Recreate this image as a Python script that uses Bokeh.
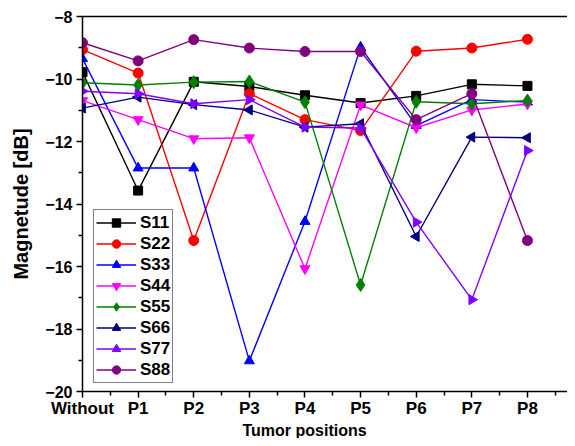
import math
from bokeh.plotting import figure
from bokeh.models import FixedTicker, LinearAxis, Legend, LegendItem, Range1d, Title
from bokeh.embed import file_html
from bokeh.resources import INLINE

positions = ["Without", "P1", "P2", "P3", "P4", "P5", "P6", "P7", "P8"]
y_ticks = [-20, -18, -16, -14, -12, -10, -8]

s11 = [-9.78, -13.57, -10.09, -10.24, -10.52, -10.77, -10.54, -10.17, -10.22]
s22 = [-9.06, -9.81, -15.17, -10.47, -11.30, -11.65, -9.11, -9.01, -8.73]
s33 = [-9.35, -12.85, -12.85, -19.02, -14.56, -8.98, -11.49, -10.66, -10.74]
s44 = [-10.69, -11.30, -11.91, -11.88, -16.07, -10.83, -11.56, -10.99, -10.80]
s55 = [-10.12, -10.19, -10.10, -10.08, -10.74, -16.59, -10.73, -10.79, -10.69]
s66 = [-10.93, -10.58, -10.82, -10.99, -11.54, -11.43, -15.04, -11.86, -11.88]
s77 = [-10.39, -10.47, -10.79, -10.66, -11.54, -11.57, -14.58, -17.06, -12.29]
s88 = [-8.84, -9.42, -8.74, -9.01, -9.12, -9.12, -11.30, -10.47, -15.17]

series_names = ["S11", "S22", "S33", "S44", "S55", "S66", "S77", "S88"]
series_values = [s11, s22, s33, s44, s55, s66, s77, s88]
colors = ["#000000", "#FF0000", "#0000FF", "#FF00FF", "#008000", "#000080", "#8000FF", "#800080"]
markers = ["square", "circle", "triangle", "inverted_triangle", "diamond", "triangle", "triangle", "circle"]
angles = [0, 0, 0, 0, 0, math.pi / 2, -math.pi / 2, 0]
sizes = [9, 10, 10, 10, 13, 10, 10, 10]

FONT = "Liberation Sans"
xs = list(range(len(positions)))

p = figure(width=567, height=438, x_range=Range1d(0, 8.72), y_range=Range1d(-20, -8),
           output_backend="svg", toolbar_location=None,
           min_border_left=82, min_border_right=0, min_border_top=16, min_border_bottom=47)
p.outline_line_color = None
p.xgrid.visible = False
p.ygrid.visible = False
p.background_fill_color = "white"
p.border_fill_color = "white"

items = []
for name, vals, col, mk, ang, sz in zip(series_names, series_values, colors, markers, angles, sizes):
    ln = p.line(xs, vals, line_color=col, line_width=1.4)
    sc = p.scatter(xs, vals, marker=mk, angle=ang, size=sz, fill_color=col, line_color=col)
    items.append(LegendItem(label=name, renderers=[ln, sc]))

xa = p.xaxis[0]
xa.ticker = FixedTicker(ticks=xs, minor_ticks=[i + 0.5 for i in range(len(positions))])
xa.major_label_overrides = {i: lab for i, lab in enumerate(positions)}
ya = p.yaxis[0]
ya.ticker = FixedTicker(ticks=y_ticks, minor_ticks=[-19, -17, -15, -13, -11, -9])
ya.major_label_overrides = {t: ("\u2212" + str(abs(t))) for t in y_ticks}

for ax in (xa, ya):
    ax.axis_line_color = "black"
    ax.axis_line_width = 1.5
    ax.major_tick_line_color = "black"
    ax.major_tick_line_width = 1.5
    ax.minor_tick_line_color = "black"
    ax.minor_tick_line_width = 1.5
    ax.major_tick_in = 0
    ax.major_tick_out = 6
    ax.minor_tick_in = 0
    ax.minor_tick_out = 4
    ax.major_label_text_font = FONT
    ax.major_label_text_font_style = "bold"
    ax.major_label_text_color = "black"
    ax.axis_label_text_font = FONT
    ax.axis_label_text_font_style = "bold"
    ax.axis_label_text_color = "black"

xa.major_label_text_font_size = "17px"
xa.major_label_standoff = 1
ya.major_label_text_font_size = "16px"
ya.major_label_standoff = 4
ya.axis_label = "Magnetude [dB]"
ya.axis_label_text_font_size = "20px"
ya.axis_label_standoff = 10

top = LinearAxis(ticker=FixedTicker(ticks=[]), major_label_text_font_size="0px",
                 major_tick_out=0, minor_tick_out=0, axis_line_color="black", axis_line_width=1.5)
p.add_layout(top, "above")

xtitle = Title(text="Tumor positions", align="left", offset=160, standoff=-2,
               text_font=FONT, text_font_style="bold", text_font_size="16px",
               text_color="black")
p.add_layout(xtitle, "below")

legend = Legend(items=items, location=(11, 8))
legend.border_line_color = "black"
legend.border_line_width = 1
legend.background_fill_color = "white"
legend.background_fill_alpha = 1
legend.padding = 2
legend.spacing = 0
legend.margin = 0
legend.label_height = 21
legend.glyph_height = 21
legend.glyph_width = 40
legend.label_standoff = 4
legend.label_text_font = FONT
legend.label_text_font_style = "bold"
legend.label_text_font_size = "17px"
legend.label_text_color = "black"
p.add_layout(legend, "center")

open("out.html", "w").write(file_html(p, INLINE))
